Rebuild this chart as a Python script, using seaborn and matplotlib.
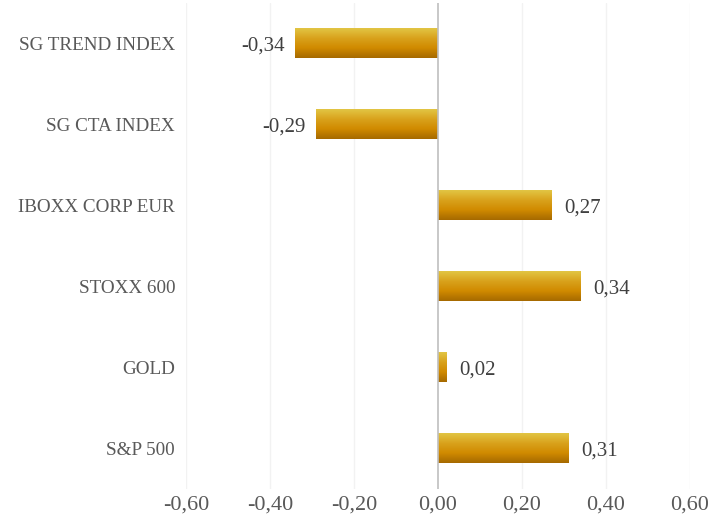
import numpy as np
import pandas as pd
import matplotlib
matplotlib.use("Agg")
import matplotlib.pyplot as plt
import seaborn as sns
from matplotlib.colors import LinearSegmentedColormap

categories = ["SG TREND INDEX", "SG CTA INDEX", "IBOXX CORP EUR", "STOXX 600", "GOLD", "S&P 500"]
values = [-0.34, -0.29, 0.27, 0.34, 0.02, 0.31]
xticks = [-0.6, -0.4, -0.2, 0.0, 0.2, 0.4, 0.6]

df = pd.DataFrame({"asset": categories, "corr": values})

sns.set_style("white")
plt.rcParams["font.family"] = ["Liberation Serif", "DejaVu Serif"]

fig, ax = plt.subplots(figsize=(7.27, 5.2), dpi=100)
fig.subplots_adjust(left=0.256, right=0.949, top=0.995, bottom=0.06)

sns.barplot(data=df, x="corr", y="asset", orient="h", width=0.37,
            color="#d08c00", ax=ax)

# vertical gradient fill for each bar (light gold on top, dark amber below)
grad = LinearSegmentedColormap.from_list("gold", ["#e2c544", "#d9a21c", "#d08a00", "#a66a00"])
g = np.linspace(0, 1, 64).reshape(-1, 1)
for p in ax.patches:
    x0, y0 = p.get_x(), p.get_y()
    w, h = p.get_width(), p.get_height()
    im = ax.imshow(g, cmap=grad, aspect="auto", zorder=p.get_zorder() + 0.1,
                   extent=[x0, x0 + w, y0 + h, y0], origin="upper")
    im.set_clip_path(p)
    p.set_edgecolor("none")

ax.set_xlim(-0.6, 0.6)
ax.set_ylim(5.5, -0.5)
ax.set_xticks(xticks)
ax.set_xticklabels([f"{t:.2f}".replace(".", ",") for t in xticks], fontsize=16, color="#595959")
ax.tick_params(axis="y", labelsize=13.8, labelcolor="#595959", length=0, pad=8)
ax.tick_params(axis="x", length=0, pad=5)
ax.set_xlabel("")
ax.set_ylabel("")

for t in xticks:
    if t != 0:
        ax.axvline(t, color="#f2f2f2", lw=1, zorder=0)
ax.axvline(0, color="#bfbfbf", lw=1.2, zorder=3)
for s in ax.spines.values():
    s.set_visible(False)

for i, v in enumerate(values):
    lbl = f"{v:.2f}".replace(".", ",")
    if v < 0:
        ax.text(v - 0.025, i, lbl, ha="right", va="center_baseline", fontsize=15, color="#404040")
    else:
        ax.text(v + 0.03, i, lbl, ha="left", va="center_baseline", fontsize=15, color="#404040")

plt.savefig("out.png", dpi=100)
